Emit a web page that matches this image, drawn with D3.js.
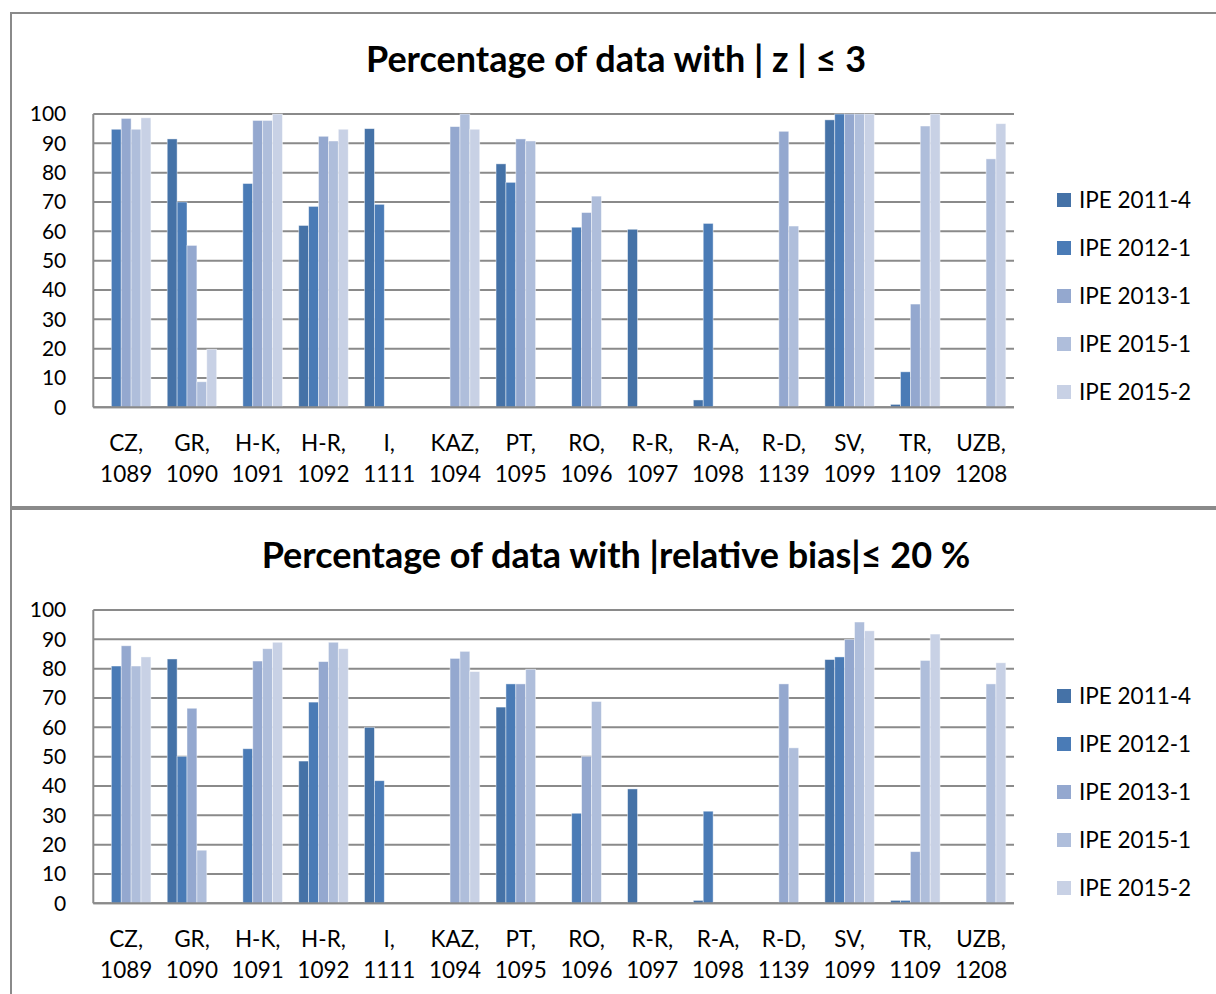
<!DOCTYPE html>
<html><head><meta charset="utf-8">
<script src="https://cdn.jsdelivr.net/npm/d3@7"></script>
<style>body{margin:0;background:#fff}svg{display:block}</style>
</head><body>
<script>
const catNames = ["CZ,","GR,","H-K,","H-R,","I,","KAZ,","PT,","RO,","R-R,","R-A,","R-D,","SV,","TR,","UZB,"];
const catCodes = ["1089","1090","1091","1092","1111","1094","1095","1096","1097","1098","1139","1099","1109","1208"];
const seriesNames = ["IPE 2011-4","IPE 2012-1","IPE 2013-1","IPE 2015-1","IPE 2015-2"];
const seriesColors = ["#4572a7","#4a7bb6","#94a8cf","#afbedb","#c8d1e5"];
const yTicks = [0,10,20,30,40,50,60,70,80,90,100];

// chart 1: |z| <= 3
const z2011_4 = [null,91.5,null,62,95,null,83,null,60.7,2.5,null,98,1,null];
const z2012_1 = [94.8,70,76.3,68.5,69.2,null,76.7,61.4,null,62.7,null,100,12.1,null];
const z2013_1 = [98.5,55.2,97.8,92.4,null,95.7,91.5,66.4,null,null,94.1,100,35.2,null];
const z2015_1 = [94.8,8.7,97.8,90.8,null,100,90.8,72,null,null,61.8,100,95.9,84.7];
const z2015_2 = [98.7,19.8,100,94.8,null,94.8,null,null,null,null,null,100,100,96.7];

// chart 2: |relative bias| <= 20 %
const b2011_4 = [null,83.3,null,48.5,60,null,66.9,null,39,1,null,83.1,1,null];
const b2012_1 = [80.9,50.1,52.7,68.6,41.8,null,74.8,30.7,null,31.4,null,84,1,null];
const b2013_1 = [87.8,66.5,82.6,82.4,null,83.5,74.8,50.1,null,null,74.8,90,17.6,null];
const b2015_1 = [80.9,18.1,86.8,89,null,85.9,79.8,68.8,null,null,53,95.9,82.8,74.8];
const b2015_2 = [84,null,89,86.8,null,79,null,null,null,null,null,92.9,91.8,82];

const title1 = "Percentage of data with | z | ≤ 3";
const title2 = "Percentage of data with |relative bias|≤ 20 %";

const W = 1216, H = 994;
const svg = d3.select("body").append("svg").attr("width", W).attr("height", H);
const FONT = "Lato, 'Open Sans', sans-serif";

function drawChart(oy, panelH, title, seriesData) {
  const g = svg.append("g").attr("transform", `translate(0,${oy})`);
  g.append("rect").attr("x", 11).attr("y", 0).attr("width", W).attr("height", panelH)
    .attr("fill", "#fff").attr("stroke", "#8a8a8a").attr("stroke-width", 2);

  g.append("text").attr("x", 616).attr("y", 59).attr("text-anchor", "middle")
    .attr("font-family", FONT).attr("font-weight", "bold").attr("font-size", 36)
    .attr("fill", "#000").text(title);

  const left = 93.3, right = 1014, top = 101, bottom = 394.3;
  const x0 = d3.scaleBand().domain(d3.range(catNames.length)).range([left, right]).padding(0);
  const bw = x0.bandwidth();
  const gap = bw * 0.248;
  const x1 = d3.scaleBand().domain(d3.range(seriesNames.length)).range([gap / 2, bw - gap / 2]).padding(0);
  const y = d3.scaleLinear().domain([0, 100]).range([bottom, top]);

  // gridlines
  g.append("g").selectAll("line").data(yTicks).join("line")
    .attr("x1", left).attr("x2", right)
    .attr("y1", d => y(d)).attr("y2", d => y(d))
    .attr("stroke", "#8a8a8a").attr("stroke-width", 2);
  // y axis line
  g.append("line").attr("x1", left).attr("x2", left).attr("y1", top).attr("y2", bottom)
    .attr("stroke", "#8a8a8a").attr("stroke-width", 2);

  // y tick labels
  const yAxis = d3.axisLeft(y).tickValues(yTicks).tickSize(0).tickPadding(27);
  const ya = g.append("g").attr("transform", `translate(${left},0)`).call(yAxis);
  ya.select(".domain").remove();
  ya.selectAll("text").attr("font-family", FONT).attr("font-size", 21).attr("fill", "#000");

  // bars
  seriesData.forEach((vals, si) => {
    g.append("g").selectAll("rect")
      .data(vals.map((v, ci) => ({ v, ci })).filter(d => d.v !== null))
      .join("rect")
      .attr("x", d => x0(d.ci) + x1(si))
      .attr("width", x1.bandwidth())
      .attr("y", d => y(d.v))
      .attr("height", d => y(0) - y(d.v))
      .attr("fill", seriesColors[si])
      .attr("stroke", "#ffffff").attr("stroke-opacity", 0.55).attr("stroke-width", 0.8);
  });

  // bottom axis line
  g.append("line").attr("x1", left).attr("x2", right).attr("y1", y(0)).attr("y2", y(0))
    .attr("stroke", "#8a8a8a").attr("stroke-width", 2);

  // category labels
  const cl = g.append("g");
  catNames.forEach((n, i) => {
    const t = cl.append("text").attr("x", x0(i) + bw / 2).attr("text-anchor", "middle")
      .attr("font-family", FONT).attr("font-size", 22.5).attr("fill", "#000");
    t.append("tspan").attr("x", x0(i) + bw / 2).attr("y", 438).text(n);
    t.append("tspan").attr("x", x0(i) + bw / 2).attr("y", 469).text(catCodes[i]);
  });

  // legend
  const lg = g.append("g");
  seriesNames.forEach((s, i) => {
    const cy = 187 + i * 48;
    lg.append("rect").attr("x", 1057).attr("y", cy - 7).attr("width", 14).attr("height", 14)
      .attr("fill", seriesColors[i]);
    lg.append("text").attr("x", 1079).attr("y", cy + 8).attr("font-family", FONT)
      .attr("font-size", 22.5).attr("fill", "#000").text(s);
  });
}

drawChart(13, 494, title1, [z2011_4, z2012_1, z2013_1, z2015_1, z2015_2]);
drawChart(509, 494, title2, [b2011_4, b2012_1, b2013_1, b2015_1, b2015_2]);
</script>
</body></html>
